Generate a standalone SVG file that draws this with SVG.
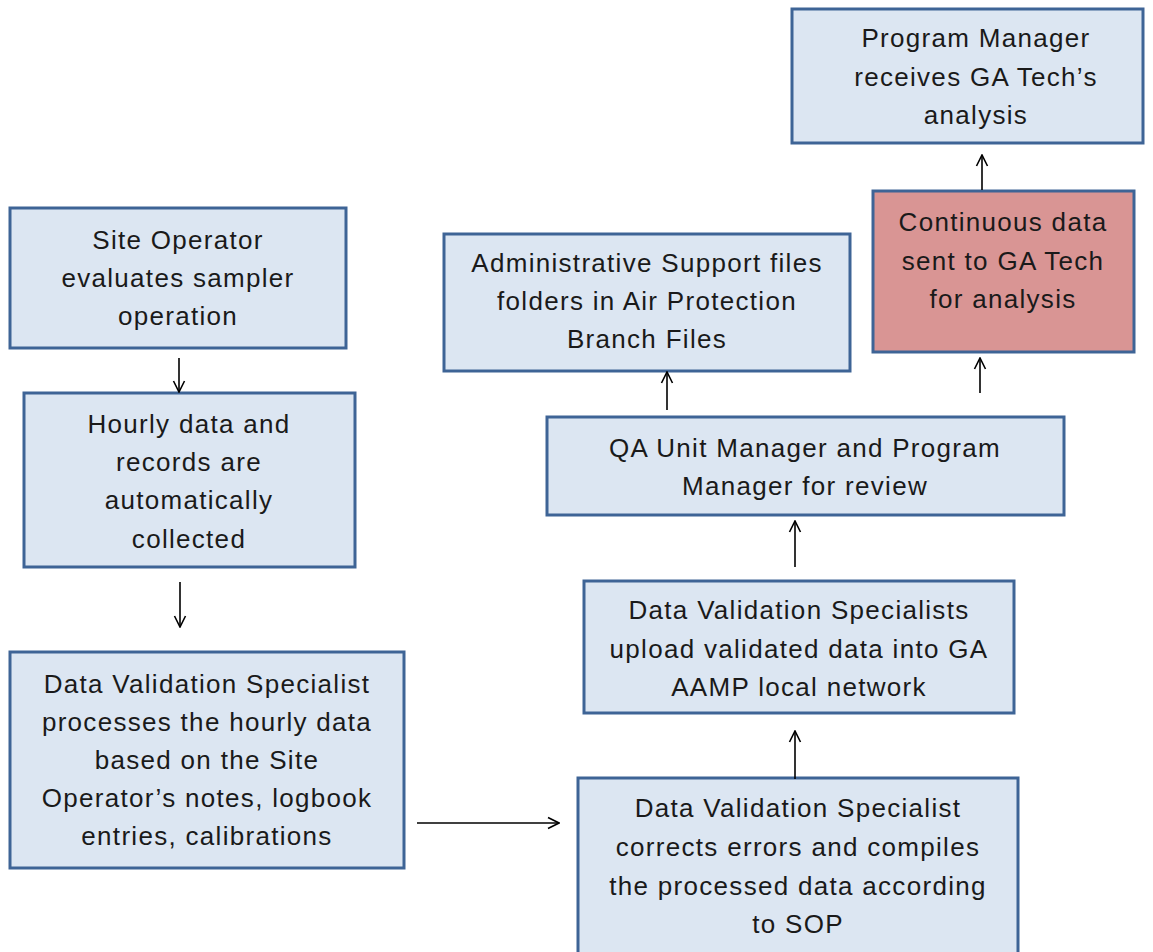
<svg xmlns="http://www.w3.org/2000/svg" width="1153" height="952" viewBox="0 0 1153 952">
  <style>
    .box { fill: #dce6f2; stroke: #3e6496; stroke-width: 3; }
    .hot { fill: #d99594; stroke: #3e6496; stroke-width: 3; }
    .lbl { font-family: "Liberation Sans", Arial, sans-serif; font-size: 26px; fill: #1a1a1a; text-anchor: middle; letter-spacing: 1.3px; }
    .link { stroke: #000; stroke-width: 1.6; fill: none; marker-end: url(#open); }
  </style>
  <defs>
    <marker id="open" viewBox="0 0 14 14" refX="13" refY="7" markerWidth="14" markerHeight="14" markerUnits="userSpaceOnUse" orient="auto">
      <path d="M2,1.5 L13,7 L2,12.5" fill="none" stroke="#000" stroke-width="1.6"/>
    </marker>
  </defs>
  <rect width="1153" height="952" fill="#fff"/>

  <g id="site-operator">
    <rect class="box" x="10" y="208" width="336" height="140"/>
    <text class="lbl" x="178" y="249">Site Operator</text>
    <text class="lbl" x="178" y="287">evaluates sampler</text>
    <text class="lbl" x="178" y="325">operation</text>
  </g>

  <g id="hourly-data">
    <rect class="box" x="24" y="393" width="331" height="174"/>
    <text class="lbl" x="189" y="433">Hourly data and</text>
    <text class="lbl" x="189" y="471">records are</text>
    <text class="lbl" x="189" y="509">automatically</text>
    <text class="lbl" x="189" y="548">collected</text>
  </g>

  <g id="process-data">
    <rect class="box" x="10" y="652" width="394" height="216"/>
    <text class="lbl" x="207" y="693">Data Validation Specialist</text>
    <text class="lbl" x="207" y="731">processes the hourly data</text>
    <text class="lbl" x="207" y="769">based on the Site</text>
    <text class="lbl" x="207" y="807">Operator’s notes, logbook</text>
    <text class="lbl" x="207" y="845">entries, calibrations</text>
  </g>

  <g id="correct-compile">
    <rect class="box" x="578" y="778" width="440" height="180"/>
    <text class="lbl" x="798" y="817">Data Validation Specialist</text>
    <text class="lbl" x="798" y="856">corrects errors and compiles</text>
    <text class="lbl" x="798" y="895">the processed data according</text>
    <text class="lbl" x="798" y="933">to SOP</text>
  </g>

  <g id="upload-data">
    <rect class="box" x="584" y="581" width="430" height="132"/>
    <text class="lbl" x="799" y="619">Data Validation Specialists</text>
    <text class="lbl" x="799" y="658">upload validated data into GA</text>
    <text class="lbl" x="799" y="696">AAMP local network</text>
  </g>

  <g id="qa-review">
    <rect class="box" x="547" y="417" width="517" height="98"/>
    <text class="lbl" x="805" y="457">QA Unit Manager and Program</text>
    <text class="lbl" x="805" y="495">Manager for review</text>
  </g>

  <g id="admin-files">
    <rect class="box" x="444" y="234" width="406" height="137"/>
    <text class="lbl" x="647" y="272">Administrative Support files</text>
    <text class="lbl" x="647" y="310">folders in Air Protection</text>
    <text class="lbl" x="647" y="348">Branch Files</text>
  </g>

  <g id="ga-tech">
    <rect class="hot" x="873" y="191" width="261" height="161"/>
    <text class="lbl" x="1003" y="231">Continuous data</text>
    <text class="lbl" x="1003" y="270">sent to GA Tech</text>
    <text class="lbl" x="1003" y="308">for analysis</text>
  </g>

  <g id="program-manager">
    <rect class="box" x="792" y="9" width="351" height="134"/>
    <text class="lbl" x="976" y="47">Program Manager</text>
    <text class="lbl" x="976" y="86">receives GA Tech’s</text>
    <text class="lbl" x="976" y="124">analysis</text>
  </g>

  <g id="connectors">
    <line class="link" x1="179" y1="358" x2="179" y2="392"/>
    <line class="link" x1="180" y1="582" x2="180" y2="627"/>
    <line class="link" x1="417" y1="823" x2="559" y2="823"/>
    <line class="link" x1="795" y1="779" x2="795" y2="731"/>
    <line class="link" x1="795" y1="567" x2="795" y2="521"/>
    <line class="link" x1="667" y1="410" x2="667" y2="372"/>
    <line class="link" x1="980" y1="393" x2="980" y2="358"/>
    <line class="link" x1="982" y1="190" x2="982" y2="155"/>
  </g>
</svg>
